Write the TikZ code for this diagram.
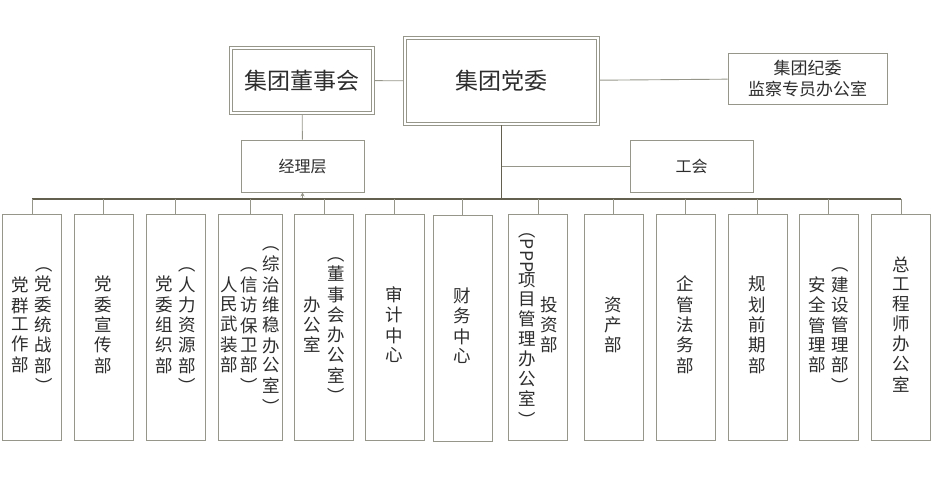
\documentclass[tikz,border=0pt]{standalone}
\usepackage{fontspec}
\setmainfont{Noto Sans CJK SC}
\usepackage{graphicx}
\usetikzlibrary{arrows.meta}

\definecolor{boxgray}{RGB}{150,150,138}
\definecolor{busgray}{RGB}{100,96,80}
\definecolor{txtgray}{RGB}{45,45,45}

% one vertical column of characters
\newcommand{\vcol}[1]{\begin{tabular}[c]{@{}c@{}}#1\end{tabular}}
\newcommand{\vrot}[1]{\rotatebox[origin=c]{-90}{#1}}

\tikzset{
  topbox/.style={text=txtgray, inner sep=0pt, font=\fontsize{23pt}{26pt}\selectfont},
  frame/.style={draw=boxgray, line width=1pt},
  sidebox/.style={draw=boxgray, line width=0.9pt, text=txtgray, inner sep=0pt, align=center},
  deptbox/.style={draw=boxgray, line width=0.9pt, text=txtgray, inner sep=0pt,
    minimum width=59pt, minimum height=226pt, font=\fontsize{17.5pt}{18.7pt}\selectfont},
  link/.style={draw=boxgray, line width=0.9pt},
  buslink/.style={draw=busgray, line width=1.2pt}
}

\begin{document}
\begin{tikzpicture}[x=1pt, y=-1pt]
\useasboundingbox (0,0) rectangle (932,489);

% Leitung oben
\node [topbox, minimum width=144pt, minimum height=67pt] (dsh) at (302,80.5) {集团董事会};
\node [topbox, minimum width=195pt, minimum height=88pt] (dw) at (501.5,81) {集团党委};
\draw [frame] (dsh.north west) rectangle (dsh.south east);
\draw [frame] ([shift={(2.6,2.6)}]dsh.north west) rectangle ([shift={(-2.6,-2.6)}]dsh.south east);
\draw [frame] (dw.north west) rectangle (dw.south east);
\draw [frame] ([shift={(2.6,2.6)}]dw.north west) rectangle ([shift={(-2.6,-2.6)}]dw.south east);
\node [sidebox, minimum width=159pt, minimum height=51pt, font=\fontsize{17pt}{21.5pt}\selectfont] (jw) at (807.5,78.5) {集团纪委\\监察专员办公室};
\node [sidebox, minimum width=123pt, minimum height=52pt, font=\fontsize{16pt}{19pt}\selectfont] (jl) at (302.5,166) {经理层};
\node [sidebox, minimum width=123pt, minimum height=52pt, font=\fontsize{16pt}{19pt}\selectfont] (gh) at (691.5,166) {工会};

% Sammelleitung
\coordinate (busL) at (32,199);
\coordinate (busR) at (901,199);

% Abteilungen
\node [deptbox] (b1) at (32,327) {\vcol{党\\群\\工\\作\\部}\hspace{6pt}\vcol{\vrot{（}\\党\\委\\统\\战\\部\\\vrot{）}}};
\node [deptbox] (b2) at (103.5,327) {\vcol{党\\委\\宣\\传\\部}};
\node [deptbox] (b3) at (175.5,327) {\vcol{党\\委\\组\\织\\部}\hspace{6pt}\vcol{\vrot{（}\\人\\力\\资\\源\\部\\\vrot{）}}};
\node [deptbox, minimum width=64pt] (b4) at (250,327) {\vcol{人\\民\\武\\装\\部}\hspace{3pt}\vcol{\vrot{（}\\信\\访\\保\\卫\\部\\\vrot{）}}\hspace{4pt}\vcol{\vrot{（}\\综\\治\\维\\稳\\办\\公\\室\\\vrot{）}}};
\node [deptbox] (b5) at (324,327) {\vcol{办\\公\\室}\hspace{6pt}\vcol{\vrot{（}\\董\\事\\会\\办\\公\\室\\\vrot{）}}};
\node [deptbox] (b6) at (394.5,327) {\vcol{审\\计\\中\\心}};
\node [deptbox] (b7) at (462.5,328) {\vcol{财\\务\\中\\心}};
\node [deptbox] (b8) at (538,327) {\vcol{\vrot{（PPP}\\项\\目\\管\\理\\办\\公\\室\\\vrot{）}}\hspace{5pt}\vcol{投\\资\\部}};
\node [deptbox] (b9) at (613.5,327) {\vcol{资\\产\\部}};
\node [deptbox] (b10) at (685.5,327) {\vcol{企\\管\\法\\务\\部}};
\node [deptbox] (b11) at (757.5,327) {\vcol{规\\划\\前\\期\\部}};
\node [deptbox] (b12) at (828.5,327) {\vcol{安\\全\\管\\理\\部}\hspace{6pt}\vcol{\vrot{（}\\建\\设\\管\\理\\部\\\vrot{）}}};
\node [deptbox] (b13) at (901,327) {\vcol{总\\工\\程\\师\\办\\公\\室}};

% Verbindungen
\draw [link] (dsh) -- (dw);
\draw [link] (dw) -- (jw);
\draw [link] (dsh) -- (jl);
\draw [buslink] (dw.south) -- (dw.south |- busL);
\draw [link] (gh.west) -- (gh.west -| dw.south);
\draw [link, -{Stealth[length=4pt, width=4pt]}] (jl.south |- busL) -- (jl.south);
\draw [buslink] (busL) -- (busR);
\foreach \i in {1,...,13}
  \draw [link] (b\i.north) -- (b\i.north |- busL);
\end{tikzpicture}
\end{document}
